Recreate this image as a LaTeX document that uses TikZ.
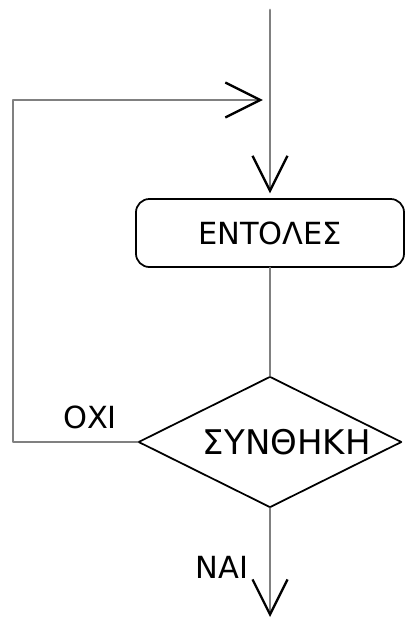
\documentclass[tikz,border=0pt]{standalone}
\usepackage{fontspec}
\setmainfont{DejaVu Sans}
\usetikzlibrary{arrows.meta,shapes.geometric}
\begin{document}
\begin{tikzpicture}[x=0.03cm,y=-0.03cm,>={Straight Barb[length=1.05cm,width=1.05cm,color=black,line width=2pt]},line join=round,line cap=round,
	flow/.style={draw=gray,line width=2.3pt},
	cmdbox/.style={draw,line width=1.5pt,rounded corners=0.4cm,minimum width=8.04cm,minimum height=2.04cm,font=\fontsize{26}{31}\selectfont},
	test/.style={draw,diamond,line width=1.5pt,inner sep=0pt,minimum width=7.9cm,minimum height=3.93cm},
	txt/.style={font=\fontsize{26}{31}\selectfont}]
		\useasboundingbox (0,0) rectangle (407,619);
		\coordinate (start) at (270,10);
		\node[cmdbox] (cmd) at (270,233) {ΕΝΤΟΛΕΣ};
		\node[test,label={[xshift=0.5cm,font=\fontsize{29}{34}\selectfont]center:ΣΥΝΘΗΚΗ}] (cond) at (270,442) {};
		\coordinate (merge) at (270,100);
		\coordinate (loop) at (13,100);
		\draw[flow,->,shorten >=4] (start) -- (cmd.north);
		\draw[flow] (cmd.south) -- (cond.north);
		\draw[flow,->,shorten >=6] (cond.west) -| (loop) -- (merge);
		\draw[flow,->] (cond.south) -- (cond.south |- 0,617);
		\node[txt] (no) at (90,417) {ΟΧΙ};
		\node[txt] (yes) at (222,567) {ΝΑΙ};
\end{tikzpicture}
\end{document}
